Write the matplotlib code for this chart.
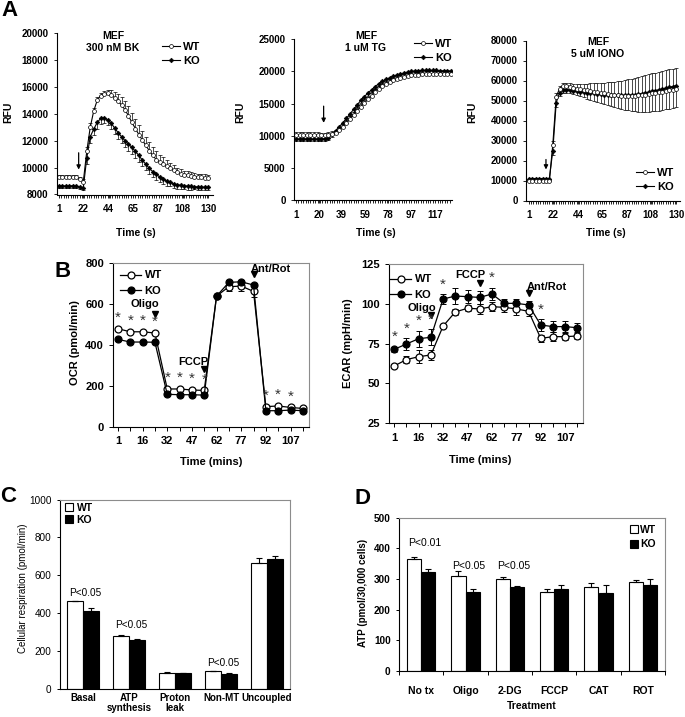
import numpy as np
import matplotlib.pyplot as plt
from matplotlib.lines import Line2D

plt.rcParams['font.family'] = ['Liberation Sans', 'DejaVu Sans']
plt.rcParams['font.weight'] = 'bold'
plt.rcParams['axes.linewidth'] = 0.8

# ---------------- A: calcium traces (RFU), read every 3 s ----------------
A_T = list(range(1, 131, 3))
BK_TICKS = [1, 22, 44, 65, 87, 108, 130]
TG_TICKS = [1, 20, 39, 59, 78, 97, 117]
IONO_TICKS = [1, 22, 44, 65, 87, 108, 130]

BK_WT = [9310, 9300, 9290, 9300, 9310, 9290, 9150, 8950, 11200, 13000, 14200, 15000, 15350,
         15500, 15530, 15400, 15200, 14950, 14650, 14300, 13850, 13350, 12900, 12450, 12050,
         11650, 11250, 10900, 10600, 10400, 10250, 10100, 9950, 9800, 9650, 9550, 9480, 9420,
         9370, 9330, 9300, 9270, 9240, 9200]
BK_WT_ERR = [150, 150, 150, 150, 150, 150, 150, 200, 300, 300, 250, 250, 200,
             200, 250, 350, 450, 550, 600, 650, 700, 700, 700, 700, 700, 650, 650, 600, 600,
             550, 500, 450, 400, 400, 350, 350, 300, 300, 300, 250, 250, 250, 250, 250]
BK_KO = [8650, 8640, 8630, 8640, 8650, 8630, 8550, 8500, 10700, 12300, 12850, 13350, 13650,
         13700, 13550, 13300, 12950, 12600, 12300, 12000, 11750, 11500, 11200, 10900, 10550,
         10250, 9950, 9700, 9500, 9300, 9150, 9000, 8900, 8800, 8730, 8680, 8650, 8620, 8600,
         8580, 8560, 8550, 8540, 8530]
BK_KO_ERR = [150, 150, 150, 150, 150, 150, 150, 200, 400, 500, 450, 450, 400,
             400, 400, 450, 450, 500, 500, 500, 500, 500, 500, 500, 450, 450, 450, 400, 400,
             400, 350, 350, 300, 300, 300, 250, 250, 250, 250, 200, 200, 200, 200, 200]

TG_WT = [10100, 10100, 10150, 10100, 10100, 10150, 10100, 10050, 10050, 10100, 10250, 10450,
         10900, 11400, 12000, 12600, 13200, 13850, 14500, 15100, 15650, 16200, 16750, 17300,
         17700, 18050, 18350, 18600, 18800, 19000, 19150, 19300, 19400, 19450, 19500, 19550,
         19600, 19650, 19650, 19650, 19660, 19650, 19650, 19660]
TG_WT_ERR = [450, 450, 500, 450, 450, 500, 450, 450, 450, 450, 450, 450, 450, 450, 450, 450,
             450, 450, 450, 450, 450, 450, 450, 450, 450, 400, 400, 400, 400, 400, 400, 400,
             400, 400, 400, 400, 400, 400, 400, 400, 400, 400, 400, 400]
TG_KO = [9500, 9500, 9500, 9520, 9500, 9500, 9500, 9520, 9550, 9700, 10200, 10800, 11400,
         12000, 12700, 13400, 14100, 14800, 15500, 16100, 16650, 17150, 17650, 18100, 18450,
         18750, 19000, 19250, 19450, 19600, 19750, 19900, 20000, 20050, 20100, 20150, 20150,
         20150, 20150, 20150, 20100, 20100, 20100, 20050]
TG_KO_ERR = [350, 350, 350, 350, 350, 350, 350, 350, 350, 400, 400, 400, 400, 400, 400, 400,
             400, 400, 400, 400, 400, 400, 400, 400, 400, 400, 400, 400, 400, 400, 400, 400,
             400, 400, 400, 400, 400, 400, 400, 400, 400, 400, 400, 400]

IONO_WT = [10000, 10000, 10000, 10000, 10000, 10000, 10000,
           28000, 52000, 56000, 57500, 57500, 57000, 56500, 56000, 55700, 55400, 55100, 54800,
           54500, 54200, 53900, 53600, 53300, 53000, 52800, 52600, 52500, 52400, 52400, 52400,
           52500, 52600, 52800, 53000, 53300, 53600, 53900, 54200, 54500, 54800, 55100, 55400,
           55800]
IONO_WT_ERR = [500, 500, 500, 500, 500, 500, 500,
               2000, 2000, 1500, 1500, 1500, 1800, 2000, 2300, 2600, 3000, 3400, 3800, 4200,
               4600, 5000, 5400, 5800, 6200, 6600, 7000, 7400, 7800, 8200, 8600, 9000, 9300,
               9500, 9700, 9900, 10000, 10100, 10200, 10300, 10400, 10500, 10600, 10700]
IONO_KO = [11000, 11000, 11000, 11000, 11000, 11000, 11000,
           25000, 49000, 54000, 55500, 55500, 55300, 55000, 54800, 54500, 54300, 54000, 53800,
           53600, 53400, 53200, 53000, 52900, 52800, 52700, 52600, 52600, 52600, 52700, 52800,
           53000, 53200, 53500, 53800, 54200, 54600, 55000, 55400, 55800, 56200, 56600, 57000,
           57500]
IONO_KO_ERR = [500, 500, 500, 500, 500, 500, 500,
               2000, 2000, 1500, 1500, 1500, 1500, 1800, 2000, 2300, 2600, 3000, 3300, 3600,
               4000, 4400, 4800, 5200, 5600, 6000, 6400, 6800, 7200, 7600, 8000, 8400, 8800,
               9200, 9500, 9800, 10000, 10200, 10400, 10500, 10600, 10700, 10800, 10800]

# ---------------- B: Seahorse OCR / ECAR ----------------
B_TIME = [1, 9, 16, 24, 32, 39, 47, 54, 62, 69, 77, 84, 92, 99, 107, 114]
OCR_WT = [478, 463, 463, 457, 184, 184, 179, 177, 637, 683, 686, 660, 98, 101, 94, 89]
OCR_WT_ERR = [8, 6, 6, 6, 6, 6, 6, 6, 5, 20, 25, 25, 5, 5, 5, 5]
OCR_KO = [426, 413, 413, 412, 158, 156, 156, 154, 637, 704, 707, 691, 78, 78, 81, 78]
OCR_KO_ERR = [6, 5, 5, 5, 5, 5, 5, 5, 5, 10, 10, 10, 5, 5, 5, 5]
OCR_STARS = [0, 1, 2, 3, 4, 5, 6, 7, 12, 13, 14]

ECAR_WT = [61, 65, 66.8, 67.9, 86, 94.9, 97.2, 96.8, 98.2, 97.8, 96.8, 95.3, 78.3, 79.4, 79.4, 79.8]
ECAR_WT_ERR = [1, 2, 4, 3, 1, 2, 2, 3, 3, 3, 4, 3, 2, 3, 2, 2]
ECAR_KO = [71.4, 74.8, 78.1, 79, 103, 104.9, 104.5, 104, 106.2, 100.3, 100.3, 99.3, 86.7, 85.7, 85.7, 85]
ECAR_KO_ERR = [1.5, 3.5, 5, 5, 3, 5, 4, 4, 4, 2.5, 2.5, 2.5, 3.5, 3.5, 3.5, 3]
ECAR_STARS = [0, 1, 2, 3, 4, 8, 12]

INJ_IDX = [3, 7, 11]
INJ_NAMES = ['Oligo', 'FCCP', 'Ant/Rot']

# ---------------- C: respiration parameters ----------------
C_CATS = ['Basal', 'ATP\nsynthesis', 'Proton\nleak', 'Non-MT', 'Uncoupled']
C_WT = [462, 282, 86, 93, 667]
C_WT_ERR = [5, 4, 3, 4, 25]
C_KO = [411, 259, 83, 78, 686]
C_KO_ERR = [14, 4, 2, 5, 16]
C_PVAL = ['P<0.05', 'P<0.05', '', 'P<0.05', '']

# ---------------- D: ATP levels ----------------
D_CATS = ['No tx', 'Oligo', '2-DG', 'FCCP', 'CAT', 'ROT']
D_WT = [365, 310, 300, 259, 275, 289]
D_WT_ERR = [8, 16, 8, 7, 13, 9]
D_KO = [324, 257, 275, 268, 254, 279]
D_KO_ERR = [9, 9, 3, 12, 28, 20]
D_PVAL = ['P<0.01', 'P<0.05', 'P<0.05', '', '', '']

W, H = 685, 717
fig = plt.figure(figsize=(W / 100, H / 100), dpi=100)


def box(l, t, r, b):
    return [l / W, 1 - b / H, (r - l) / W, (b - t) / H]


def ftxt(x, y, s, **kw):
    kw.setdefault('ha', 'center')
    kw.setdefault('va', 'center')
    fig.text(x / W, 1 - y / H, s, **kw)


def fig_pt(x, y):
    return (x / W, 1 - y / H)


def calcium(rect, wt, wt_err, ko, ko_err, ylim, ystep, ticks, xlim, title_xy, title,
            arrow, leg_xy):
    ax = fig.add_axes(rect)
    z = np.zeros(len(A_T))
    ax.errorbar(A_T, ko, yerr=[ko_err, z], fmt='none', ecolor='k', elinewidth=0.5,
                capsize=1.5, capthick=0.5)
    ax.errorbar(A_T, wt, yerr=[z, wt_err], fmt='none', ecolor='k', elinewidth=0.5,
                capsize=1.5, capthick=0.5)
    ax.plot(A_T, ko, '-D', color='k', lw=0.8, ms=2.4, mfc='k', mew=0.4, label='KO')
    ax.plot(A_T, wt, '-o', color='k', lw=0.8, ms=2.8, mfc='white', mew=0.5, label='WT')
    ax.set_xlim(*xlim)
    ax.set_ylim(*ylim)
    ax.set_yticks(np.arange(ylim[0], ylim[1] + 1, ystep))
    ax.set_xticks(ticks)
    ax.set_xticks(np.arange(1, 131, 2), minor=True)
    ax.tick_params(axis='both', which='both', direction='out', length=2.5, width=0.6,
                   labelsize=7, pad=3.5)
    ax.tick_params(axis='x', which='both', pad=4.5)
    for s in ['top', 'right']:
        ax.spines[s].set_visible(False)
    ax.annotate('', xy=(arrow[0], arrow[1]), xytext=(arrow[0], arrow[2]),
                arrowprops=dict(arrowstyle='-|>', color='k', lw=0.9, mutation_scale=6,
                                shrinkA=0, shrinkB=0))
    ftxt(title_xy[0], title_xy[1], title, fontsize=7.5, linespacing=1.25)
    h, l = ax.get_legend_handles_labels()
    ax.legend(h[::-1], l[::-1], loc='center', bbox_to_anchor=fig_pt(*leg_xy),
              bbox_transform=fig.transFigure, frameon=False, fontsize=8, handlelength=1.6,
              handletextpad=0.3, labelspacing=0.35, borderpad=0)
    return ax


calcium(box(57, 33, 213, 194.5), BK_WT, BK_WT_ERR, BK_KO, BK_KO_ERR, (8000, 20000), 2000,
        BK_TICKS, (-0.7, 134), (113, 42), 'MEF\n300 nM BK', (18, 9850, 11100), (181, 54))
calcium(box(294, 39.3, 452, 200), TG_WT, TG_WT_ERR, TG_KO, TG_KO_ERR, (0, 25000), 5000,
        TG_TICKS, (-0.7, 131), (366, 42), 'MEF\n1 uM TG', (24, 12000, 14600), (433, 51))
calcium(box(526, 40.5, 680, 200.5), IONO_WT, IONO_WT_ERR, IONO_KO, IONO_KO_ERR, (0, 80000),
        10000, IONO_TICKS, (-1.5, 133.5), (598, 48), 'MEF\n5 uM IONO', (16, 15500, 20500),
        (655, 180))

for x in (8, 240, 472):
    ftxt(x, 112, 'RFU', fontsize=7.5, rotation=90)
for x in (136, 376, 606):
    ftxt(x, 233, 'Time (s)', fontsize=7.5)


def seahorse(rect, wt, wt_err, ko, ko_err, ylim, yticks, xlim, stars, star_off, tri_y,
             note_xy, leg_xy):
    ax = fig.add_axes(rect)
    idx = np.arange(len(B_TIME))
    ax.errorbar(idx, ko, yerr=ko_err, fmt='none', ecolor='k', elinewidth=0.7, capsize=2,
                capthick=0.7)
    ax.errorbar(idx, wt, yerr=wt_err, fmt='none', ecolor='k', elinewidth=0.7, capsize=2,
                capthick=0.7)
    ax.plot(idx, wt, '-o', color='k', lw=0.9, ms=5, mfc='white', mew=0.9, label='WT')
    ax.plot(idx, ko, '-o', color='k', lw=0.9, ms=5, mfc='k', mew=0.9, label='KO')
    ax.set_xlim(*xlim)
    ax.set_ylim(*ylim)
    ax.set_yticks(yticks)
    ax.set_xticks(idx[::2])
    ax.set_xticklabels([str(t) for t in B_TIME[::2]])
    ax.set_xticks(idx, minor=True)
    ax.tick_params(axis='both', which='both', direction='out', length=3, width=0.7,
                   labelsize=8, pad=3.5)
    ax.tick_params(axis='x', which='both', pad=4)
    for s in ['top', 'right']:
        ax.spines[s].set_color('#8c8c8c')
    top = np.maximum(np.array(wt) + np.array(wt_err), np.array(ko) + np.array(ko_err))
    for i in stars:
        ax.annotate('*', (i, top[i]), xytext=(0, star_off), textcoords='offset points',
                    ha='center', va='center', fontsize=11, color='#333333',
                    fontweight='normal')
    for i, ty, name, (nx, ny) in zip(INJ_IDX, tri_y, INJ_NAMES, note_xy):
        ax.plot(i, ty, marker='v', color='k', ms=4.5, ls='none')
        ax.text(nx, ny, name, ha='center', va='center', fontsize=8)
    ax.legend(loc='center', bbox_to_anchor=fig_pt(*leg_xy), bbox_transform=fig.transFigure,
              frameon=False, fontsize=8, handlelength=1.9, handletextpad=0.3,
              labelspacing=0.45, borderpad=0)
    return ax


seahorse(box(113, 262.7, 309, 426.7), OCR_WT, OCR_WT_ERR, OCR_KO, OCR_KO_ERR, (0, 800),
         range(0, 801, 200), (-0.4, 15.5), OCR_STARS, 7, [551, 283, 746],
         [(2.2, 600), (6.1, 317), (12.4, 770)], (141, 283))
seahorse(box(389, 264, 583, 423.3), ECAR_WT, ECAR_WT_ERR, ECAR_KO, ECAR_KO_ERR, (25, 125),
         range(25, 126, 25), (-0.43, 15.46), ECAR_STARS, 7, [93, 113, 106.6],
         [(2.25, 97.3), (6.2, 118), (12.5, 110.7)], (411, 287))

ftxt(75, 343, 'OCR (pmol/min)', fontsize=8, rotation=90)
ftxt(348, 343, 'ECAR (mpH/min)', fontsize=8, rotation=90)
ftxt(211, 462, 'Time (mins)', fontsize=8)
ftxt(480, 460, 'Time (mins)', fontsize=8)


def bars(rect, cats, wt, wt_err, ko, ko_err, ylim, ystep, width):
    ax = fig.add_axes(rect)
    x = np.arange(len(cats))
    ekw = dict(lw=0.8, capsize=2, capthick=0.8)
    ax.bar(x - width / 2, wt, width, color='white', edgecolor='k', lw=0.8,
           yerr=[np.zeros(len(x)), wt_err], error_kw=ekw, label='WT')
    ax.bar(x + width / 2, ko, width, color='k', edgecolor='k', lw=0.8,
           yerr=[np.zeros(len(x)), ko_err], error_kw=ekw, label='KO')
    ax.set_xlim(-0.5, len(cats) - 0.5)
    ax.set_ylim(*ylim)
    ax.set_yticks(np.arange(ylim[0], ylim[1] + 1, ystep))
    ax.set_xticks(x)
    ax.set_xticklabels(cats, linespacing=1.0)
    for s in ['top', 'right']:
        ax.spines[s].set_color('#8c8c8c')
    return ax


square_wt = Line2D([], [], marker='s', ls='none', mfc='white', mec='k', ms=5.5, mew=0.8)
square_ko = Line2D([], [], marker='s', ls='none', mfc='k', mec='k', ms=5.5, mew=0.8)

axc = bars(box(60, 499.5, 290, 689), C_CATS, C_WT, C_WT_ERR, C_KO, C_KO_ERR, (0, 1000), 200, 0.34)
axc.tick_params(axis='y', direction='out', length=2.5, width=0.7, labelsize=7.2, pad=3.5)
axc.tick_params(axis='x', length=0, labelsize=7, pad=3)
for t in axc.get_yticklabels():
    t.set_fontweight('normal')
for i, (p, py) in enumerate(zip(C_PVAL, [509, 339, 0, 139, 0])):
    if p:
        axc.text(i + 0.04, py, p, ha='center', va='center', fontsize=7.2, fontweight='normal')
axc.legend([square_wt, square_ko], ['WT', 'KO'], loc='center', bbox_to_anchor=fig_pt(79, 514),
           bbox_transform=fig.transFigure, frameon=False, fontsize=7.5, handlelength=0.8,
           handletextpad=0.3, labelspacing=0.2, borderpad=0)
ftxt(23, 588, 'Cellular respiration (pmol/min)', fontsize=7, rotation=90, fontweight='normal')

axd = bars(box(399, 517.7, 665, 671), D_CATS, D_WT, D_WT_ERR, D_KO, D_KO_ERR, (0, 500), 100, 0.32)
axd.set_xticks(np.arange(-0.5, len(D_CATS)), minor=True)
axd.tick_params(axis='y', direction='out', length=2.5, width=0.7, labelsize=7.2, pad=3.5)
axd.tick_params(axis='x', which='major', length=0, labelsize=7.5, pad=11)
axd.tick_params(axis='x', which='minor', direction='out', length=3, width=0.7)
for i, (p, py) in enumerate(zip(D_PVAL, [417, 343, 343, 0, 0, 0])):
    if p:
        axd.text(i + 0.08, py, p, ha='center', va='center', fontsize=7.5, fontweight='normal')
axd.legend([square_wt, square_ko], ['WT', 'KO'], loc='center', bbox_to_anchor=fig_pt(643, 537),
           bbox_transform=fig.transFigure, frameon=False, fontsize=7.5, handlelength=0.8,
           handletextpad=0.2, labelspacing=0.45, borderpad=0)
ftxt(363, 593, 'ATP (pmol/30,000 cells)', fontsize=7, rotation=90)
ftxt(532, 706, 'Treatment', fontsize=7.5)

for letter, x, y in [('A', 9, 10), ('B', 63, 271), ('C', 8, 497), ('D', 362, 498)]:
    ftxt(x, y, letter, fontsize=16)

fig.savefig('out.png', dpi=100)
